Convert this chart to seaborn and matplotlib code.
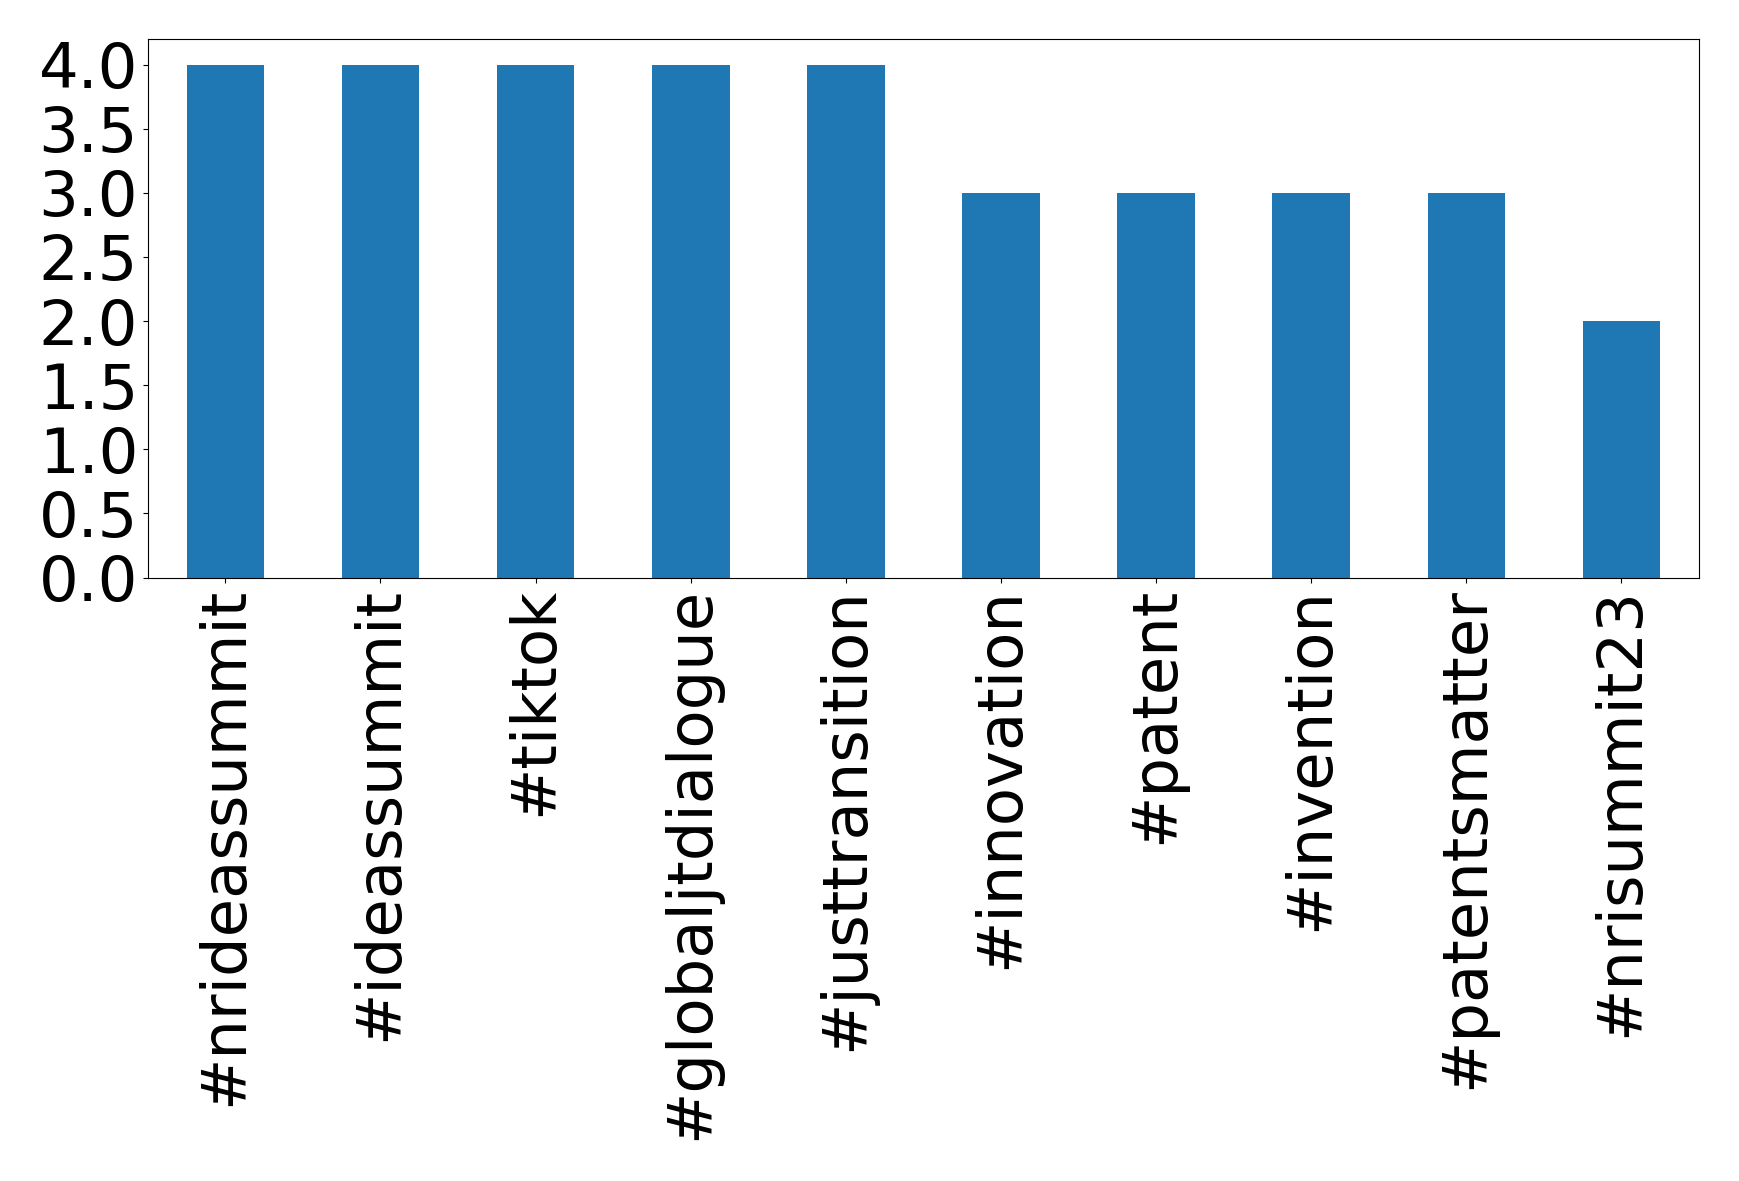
import matplotlib
matplotlib.use('Agg')
import pandas as pd
import matplotlib.pyplot as plt
import seaborn as sns
from matplotlib.ticker import MultipleLocator, FormatStrFormatter

hashtags = ['#nrideassummit', '#ideassummit', '#tiktok', '#globaljtdialogue',
            '#justtransition', '#innovation', '#patent', '#invention',
            '#patentsmatter', '#nrisummit23']
counts = [4, 4, 4, 4, 4, 3, 3, 3, 3, 2]

df = pd.DataFrame({'hashtag': hashtags, 'count': counts})

fig, ax = plt.subplots(figsize=(17.39, 11.81), dpi=100)
sns.barplot(data=df, x='hashtag', y='count', color='#1f77b4', width=0.5,
            saturation=1, ax=ax)
ax.set_xlim(-0.5, len(hashtags) - 0.5)
ax.set_ylim(0, 4.2)
ax.yaxis.set_major_locator(MultipleLocator(0.5))
ax.yaxis.set_major_formatter(FormatStrFormatter('%.1f'))
ax.set_xlabel('')
ax.set_ylabel('')
ax.tick_params(axis='both', labelsize=45)
ax.tick_params(axis='x', labelrotation=90)
plt.subplots_adjust(left=0.085, right=0.977, top=0.967, bottom=0.511)
plt.savefig('out.png')
